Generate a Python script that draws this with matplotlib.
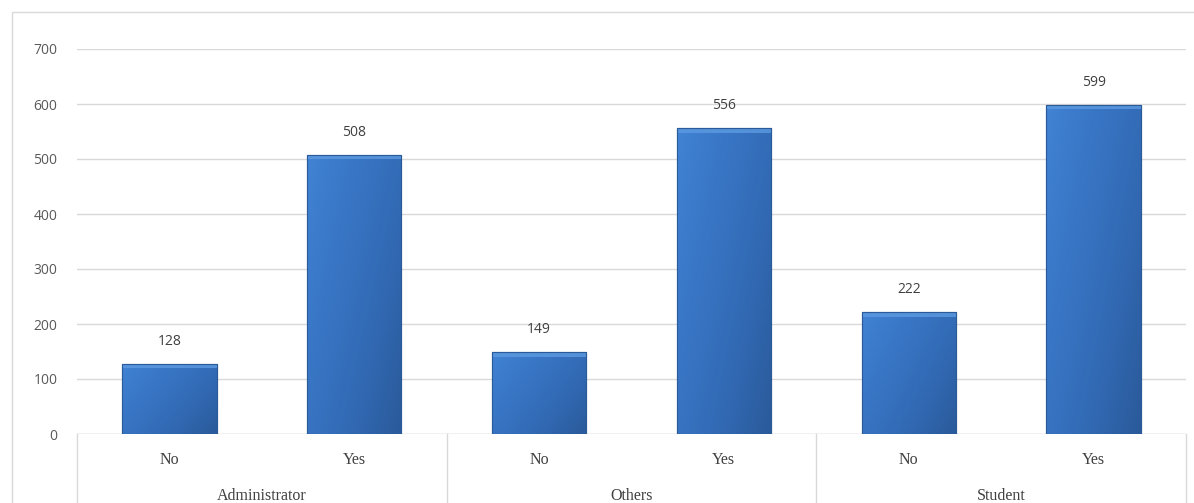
import numpy as np
import matplotlib
matplotlib.use("Agg")
import matplotlib.pyplot as plt
from matplotlib.patches import Rectangle
from matplotlib.colors import LinearSegmentedColormap

# Data
groups = ["Administrator", "Others", "Student"]
answers = ["No", "Yes"]
values = [128, 508, 149, 556, 222, 599]
yticks = [0, 100, 200, 300, 400, 500, 600, 700]

W, H = 1194, 503
fig = plt.figure(figsize=(W / 100, H / 100), dpi=100)

# outer chart border
fig.patches.append(Rectangle((12 / W, -0.1), 1.2, (H - 12) / H + 0.1,
                             transform=fig.transFigure, fill=False,
                             edgecolor="#d9d9d9", linewidth=1.0))

left, right = 77 / W, 1186 / W
bottom, top = (H - 434) / H, (H - 49) / H
ax = fig.add_axes([left, bottom, right - left, top - bottom])

x = np.arange(len(values))
bars = ax.bar(x, values, width=0.51, color="#3470bd", edgecolor="#2b5a98",
              linewidth=0.8, zorder=3)

# gradient fill clipped to each bar
cmap = LinearSegmentedColormap.from_list(
    "bev", ["#4283d4", "#3a78c8", "#3570bd", "#3066ae", "#2a5a9a"])
gx, gy = np.meshgrid(np.linspace(0, 1, 64), np.linspace(0, 1, 64))
for b in bars:
    bx, by = b.get_x(), b.get_y()
    bw, bh = b.get_width(), b.get_height()
    g = 0.6 * gx + 0.4 * gy
    im = ax.imshow(g, cmap=cmap, extent=(bx, bx + bw, by, by + bh),
                   origin="upper", aspect="auto", zorder=3.5, vmin=0, vmax=1)
    im.set_clip_path(b)
    # light bevel at top
    bev = Rectangle((bx, by + bh - 0.012 * 700), bw, 0.012 * 700,
                    facecolor="#5c9ae0", edgecolor="none", alpha=0.8, zorder=3.6)
    ax.add_patch(bev)
    ax.add_patch(Rectangle((bx, by), bw, bh, fill=False,
                           edgecolor="#2b5a98", linewidth=0.8, zorder=3.7))

for xi, v in zip(x, values):
    ax.annotate(str(v), (xi, v), xytext=(0, 16), textcoords="offset points",
                ha="center", va="center", fontsize=10, color="#404040",
                family="Open Sans")

ax.set_xlim(-0.5, len(values) - 0.5)
ax.set_ylim(0, 700)
ax.set_yticks(yticks)
ax.set_yticklabels([str(t) for t in yticks], fontsize=10, color="#595959",
                   family="Open Sans")
ax.tick_params(axis="y", length=0, pad=14)
ax.tick_params(axis="x", length=0)
ax.set_xticks([])
ax.grid(axis="y", color="#d9d9d9", linewidth=1.0, zorder=0)
for s in ax.spines.values():
    s.set_visible(False)
ax.axhline(0, color="#d9d9d9", linewidth=1.0, zorder=2)

# category labels
trans = ax.get_xaxis_transform()
for i, xi in enumerate(x):
    ax.text(xi, -0.068, answers[i % 2], transform=trans, ha="center",
            va="center", fontsize=11.5, color="#404040", family="Liberation Serif")
for gi, g in enumerate(groups):
    ax.text(2 * gi + 0.5, -0.16, g, transform=trans, ha="center", va="center",
            fontsize=11.5, color="#404040", family="Liberation Serif")
# group separators
for sx in [-0.5, 1.5, 3.5, 5.5]:
    ax.plot([sx, sx], [0, -0.3], transform=trans, color="#d9d9d9",
            linewidth=1.0, clip_on=False)

fig.savefig("out.png", dpi=100)
